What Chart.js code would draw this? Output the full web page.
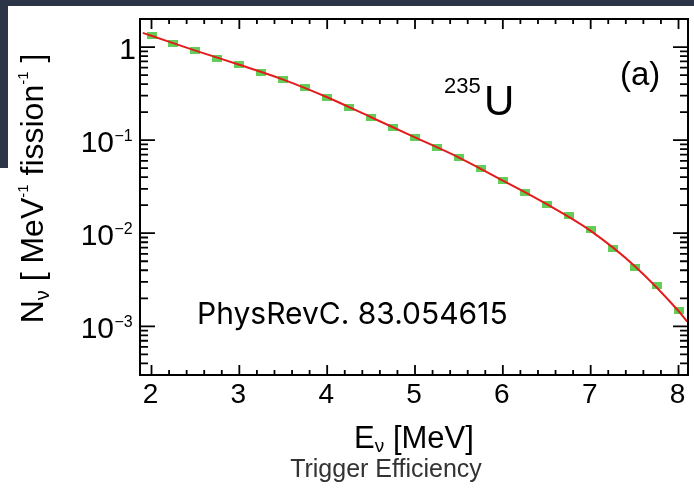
<!DOCTYPE html>
<html>
<head>
<meta charset="utf-8">
<script src="https://cdn.jsdelivr.net/npm/chart.js@4.4.1/dist/chart.umd.min.js"></script>
<style>
html,body{margin:0;padding:0;background:#fff;overflow:hidden;}
#wrap{position:relative;width:694px;height:491px;}
</style>
</head>
<body>
<div id="wrap"><canvas id="c" width="694" height="491"></canvas></div>
<script>
// ---- data ----
const energies = [2.00,2.25,2.50,2.75,3.00,3.25,3.50,3.75,4.00,4.25,4.50,4.75,5.00,5.25,5.50,5.75,6.00,6.25,6.50,6.75,7.00,7.25,7.50,7.75,8.00];
const spectrum = [1.32,1.10,0.919,0.762,0.645,0.539,0.446,0.363,0.287,0.226,0.175,0.1355,0.1076,0.0841,0.0650,0.0491,0.0368,0.0273,0.0205,0.01535,0.0110,0.0069,0.0043,0.00275,0.00147];
const fitEnergies = [1.9,2.0,2.5,3.0,3.5,4.0,4.5,5.0,5.5,6.0,6.5,7.0,7.5,8.0,8.1];
const fitValues  = [1.42,1.32,0.915,0.645,0.447,0.289,0.176,0.107,0.0650,0.0368,0.0205,0.0106,0.00445,0.00146,0.00112];
const xTickValues = [2,3,4,5,6,7,8];
const xTickLabels = ['2','3','4','5','6','7','8'];
const yTickValues = [1,0.1,0.01,0.001];
const yTickBase = ['1','10','10','10'];
const yTickSup = ['','\u22121','\u22122','\u22123'];

const NAVY = '#2c3447';
const GREEN = '#62cd57';
const RED = '#e31b1b';
const SANS = '"Liberation Sans", Arial, Helvetica, sans-serif';

function makeBox(){
  const c = document.createElement('canvas');
  c.width = 10; c.height = 7;
  const g = c.getContext('2d');
  g.fillStyle = GREEN; g.fillRect(0,0,10,7);
  return c;
}

function drawPieces(ctx, pieces, x, y){
  let cx = x;
  for (const p of pieces){
    ctx.font = p.f + 'px ' + (p.fam || SANS);
    ctx.fillText(p.t, cx, y + (p.dy||0));
    cx += ctx.measureText(p.t).width;
  }
  return cx - x;
}
function piecesWidth(ctx, pieces){
  let w = 0;
  for (const p of pieces){ ctx.font = p.f + 'px ' + (p.fam || SANS); w += ctx.measureText(p.t).width; }
  return w;
}

const deco = {
  id: 'deco',
  beforeDraw(chart){
    const ctx = chart.ctx;
    ctx.save();
    ctx.fillStyle = '#fff'; ctx.fillRect(0,0,chart.width,chart.height);
    ctx.fillStyle = NAVY;
    ctx.fillRect(0,0,chart.width,6);
    ctx.fillRect(0,0,8,168);
    ctx.restore();
  },
  afterDraw(chart){
    const ctx = chart.ctx;
    const a = chart.chartArea;
    const xs = chart.scales.x, ys = chart.scales.y;
    ctx.save();
    ctx.strokeStyle = '#000';
    ctx.lineWidth = 2;
    ctx.strokeRect(a.left, a.top, a.right - a.left, a.bottom - a.top);
    ctx.lineWidth = 1.8;
    ctx.beginPath();
    for (let i = 0; i <= 30; i++){
      const v = 2 + i*0.2;
      if (v < xs.min || v > xs.max) continue;
      const px = xs.getPixelForValue(v);
      const len = (i % 5 === 0) ? 10 : 5;
      ctx.moveTo(px, a.bottom); ctx.lineTo(px, a.bottom - len);
      ctx.moveTo(px, a.top); ctx.lineTo(px, a.top + len);
    }
    for (let e = -4; e <= 0; e++){
      for (let k = 1; k <= 9; k++){
        const v = k * Math.pow(10, e);
        if (v < ys.min || v > ys.max) continue;
        const py = ys.getPixelForValue(v);
        const len = (k === 1) ? 15 : 8;
        ctx.moveTo(a.left, py); ctx.lineTo(a.left + len, py);
        ctx.moveTo(a.right, py); ctx.lineTo(a.right - len, py);
      }
    }
    ctx.stroke();

    ctx.fillStyle = '#000';
    ctx.textAlign = 'center'; ctx.textBaseline = 'alphabetic';
    ctx.font = '28px ' + SANS;
    xTickValues.forEach((v,i) => {
      ctx.fillText(xTickLabels[i], xs.getPixelForValue(v) - 1, a.bottom + 28);
    });
    yTickValues.forEach((v,i) => {
      const py = ys.getPixelForValue(v);
      if (!yTickSup[i]){
        ctx.textAlign = 'right'; ctx.font = '30px ' + SANS;
        ctx.fillText(yTickBase[i], 136, py + 12);
      } else {
        ctx.textAlign = 'right'; ctx.font = '30px ' + SANS;
        ctx.fillText(yTickBase[i], 114, py + 11.5);
        ctx.textAlign = 'left'; ctx.font = '16px ' + SANS;
        ctx.fillText(yTickSup[i], 114.5, py + 1);
      }
    });

    ctx.textAlign = 'left';
    const xt = [{t:'E',f:31},{t:'\u03bd',f:19,dy:4},{t:' [MeV]',f:31}];
    const xw = piecesWidth(ctx, xt);
    drawPieces(ctx, xt, (a.left + a.right)/2 - xw/2, 448);

    const yt = [{t:'N',f:32},{t:'\u03bd',f:20,dy:6},{t:' [ MeV',f:32},{t:'-1',f:15,dy:-15},
                {t:' fission',f:32},{t:'-1',f:15,dy:-15},{t:' ]',f:32}];
    const yw = piecesWidth(ctx, yt);
    ctx.save();
    ctx.translate(43, 188.5);
    ctx.rotate(-Math.PI/2);
    drawPieces(ctx, yt, -yw/2, 0);
    ctx.restore();

    ctx.font = '33px ' + SANS;
    ctx.fillText('(a)', 620, 85);
    ctx.font = '22px ' + SANS;
    ctx.fillText('235', 444, 93);
    ctx.font = '42px ' + SANS;
    ctx.fillText('U', 484, 115);
    ctx.font = '30px Inter, Roboto, sans-serif';
    ctx.fillText('PhysRevC. 83.054615', 197, 323.5);

    ctx.fillStyle = '#333';
    ctx.textAlign = 'center';
    ctx.font = '25px ' + SANS;
    ctx.fillText('Trigger Efficiency', 386, 477);
    ctx.restore();
  }
};

new Chart(document.getElementById('c'), {
  type: 'line',
  data: {
    datasets: [
      {
        label: 'fit',
        data: fitEnergies.map((x,i) => ({x: x, y: fitValues[i]})),
        borderColor: RED,
        borderWidth: 2,
        pointRadius: 0,
        cubicInterpolationMode: 'monotone',
        fill: false,
        order: 0
      },
      {
        label: '235U',
        data: energies.map((x,i) => ({x: x, y: spectrum[i]})),
        showLine: false,
        pointStyle: makeBox(),
        pointRadius: 5,
        order: 1
      }
    ]
  },
  options: {
    responsive: false,
    animation: false,
    devicePixelRatio: 1,
    layout: { padding: { left: 140, top: 19, right: 5, bottom: 116 } },
    plugins: { legend: { display: false }, tooltip: { enabled: false } },
    scales: {
      x: { type: 'linear', min: 1.869, max: 8.108, display: false },
      y: { type: 'logarithmic', min: 3e-4, max: 2, display: false }
    }
  },
  plugins: [deco]
});
</script>
</body>
</html>
